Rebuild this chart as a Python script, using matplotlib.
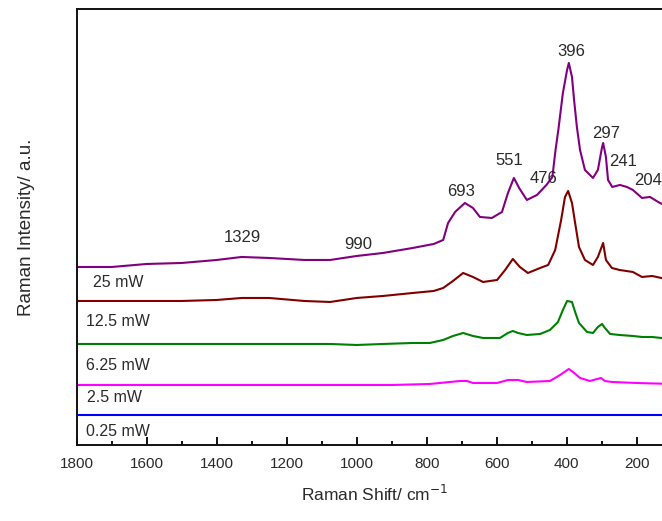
import matplotlib.pyplot as plt
from matplotlib.ticker import MultipleLocator

plt.rcParams['font.family'] = ['Liberation Sans', 'DejaVu Sans']
TXT = '#2a2a2a'

# spectra: Raman shift (cm^-1) and stacked intensity (a.u.)
w25 = [1800, 1700, 1600, 1500, 1400, 1329, 1250, 1150, 1076, 1000, 925, 840,
       780, 753, 739, 719, 691, 668, 648, 614, 585, 568, 551, 536, 514, 485,
       458, 441, 432, 424, 411, 399, 394, 385, 379, 371, 362, 348, 325, 311,
       299, 296, 288, 282, 270, 248, 228, 211, 185, 162, 134, 100]
i25 = [178, 178, 181, 182, 185, 188, 187, 185, 185, 189, 192, 197,
       201, 205, 222, 233, 242, 237, 228, 227, 233, 252, 267, 257, 245, 250,
       260, 268, 295, 315, 352, 375, 382, 368, 345, 318, 295, 275, 267, 275,
       298, 302, 288, 265, 258, 260, 258, 255, 247, 248, 242, 237]

w12 = [1800, 1700, 1600, 1500, 1400, 1329, 1250, 1150, 1076, 1000, 925, 840,
       780, 753, 725, 696, 668, 639, 599, 576, 554, 534, 511, 476, 453, 433,
       416, 405, 396, 385, 376, 365, 348, 325, 311, 296, 288, 271, 249, 211,
       185, 156, 130, 100]
i12 = [144, 144, 144, 144, 145, 147, 147, 144, 143, 147, 149, 152,
       154, 157, 164, 172, 168, 163, 165, 175, 186, 178, 172, 177, 180, 195,
       225, 248, 254, 242, 222, 198, 185, 180, 188, 202, 185, 177, 175, 173,
       168, 169, 167, 165]

w6 = [1800, 1700, 1600, 1500, 1400, 1329, 1250, 1150, 1076, 1000, 925, 840,
      791, 753, 725, 696, 668, 639, 591, 568, 554, 539, 514, 476, 448, 425,
      411, 399, 385, 376, 365, 342, 325, 311, 299, 291, 276, 249, 211, 185,
      156, 130, 100]
i6 = [101, 101, 101, 101, 101, 101, 101, 101, 101, 100, 101, 102,
      102, 105, 109, 112, 109, 107, 107, 112, 114, 112, 110, 111, 115, 123,
      135, 144, 143, 133, 122, 113, 112, 118, 121, 117, 111, 110, 109, 108,
      108, 107, 107]

w2 = [1800, 1500, 1200, 1000, 900, 791, 705, 685, 668, 599, 568, 539, 514,
      448, 419, 394, 382, 362, 334, 302, 291, 271, 200, 100]
i2 = [60, 60, 60, 60, 60, 61, 64, 64, 62, 62, 65, 65, 63,
      64, 70, 76, 73, 67, 64, 67, 64, 63, 62, 61]

w0 = [1800, 1400, 1000, 600, 400, 100]
i0 = [30, 30, 30, 30, 30, 30]

series = [(w25, i25), (w12, i12), (w6, i6), (w2, i2), (w0, i0)]
colors = ['#800080', '#800000', '#008000', '#ff00ff', '#0000ff']
power_labels = ['25 mW', '12.5 mW', '6.25 mW', '2.5 mW', '0.25 mW']
power_pos = [(1753, 162), (1773, 123), (1773, 79), (1770, 47), (1773, 13)]

peak_labels = ['1329', '990', '693', '551', '476', '396', '297', '241', '204']
peak_pos = [(1327, 207), (996, 200), (702, 253), (563, 284), (466, 266),
            (387, 393), (288, 311), (239, 283), (168, 264)]

fig = plt.figure(figsize=(6.62, 5.21), dpi=100)
ax = fig.add_axes([0.1159, 0.1459, 0.8988, 0.8369])

for (x, y), c in zip(series, colors):
    ax.plot(x, y, color=c, linewidth=1.5)

for t, (x, y) in zip(power_labels, power_pos):
    ax.text(x, y, t, fontsize=11.5, color=TXT, ha='left', va='center')

for t, (x, y) in zip(peak_labels, peak_pos):
    ax.text(x, y, t, fontsize=12, color=TXT, ha='center', va='center')

ax.set_xlim(1800, 100)
ax.set_ylim(0, 436)
ax.xaxis.set_minor_locator(MultipleLocator(100))
ax.set_xticks([1800, 1600, 1400, 1200, 1000, 800, 600, 400, 200])
ax.set_yticks([])
ax.tick_params(axis='x', which='major', direction='in', length=6, width=1.3,
               labelsize=11, labelcolor=TXT, pad=9)
ax.tick_params(axis='x', which='minor', direction='in', length=3, width=1.3)

for s in ax.spines.values():
    s.set_linewidth(1.4)
    s.set_color('#111111')

ax.set_xlabel('Raman Shift/ cm$^{-1}$', fontsize=12.5, color=TXT, labelpad=9)
ax.set_ylabel('Raman Intensity/ a.u.', fontsize=13.5, color=TXT, labelpad=30)

fig.savefig('out.png', dpi=100)
